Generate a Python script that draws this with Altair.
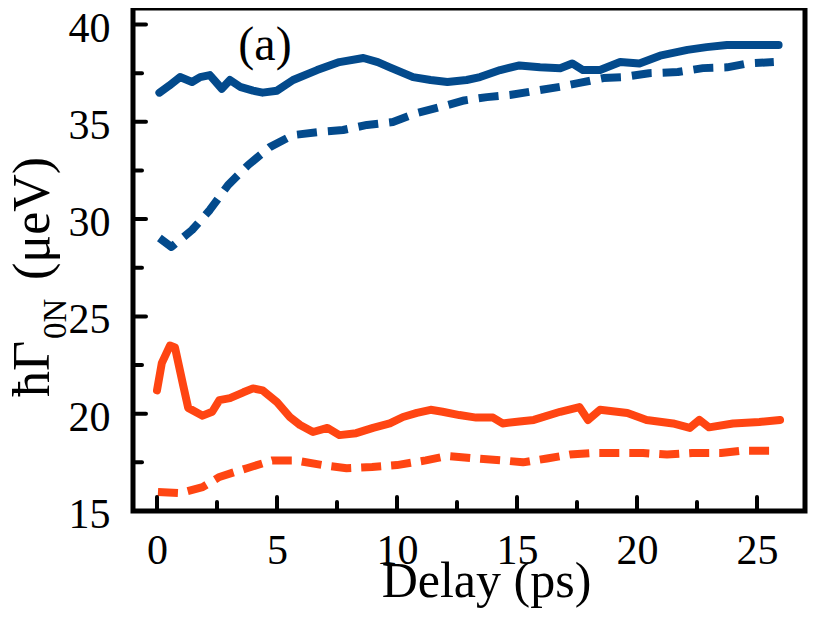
import altair as alt
import pandas as pd

# ---- data ----
blue_solid_x = [0.1, 0.5, 0.96, 1.46, 1.8, 2.2, 2.7, 3.04, 3.46, 4.0, 4.4, 5.0, 5.67, 6.67, 7.6, 8.6, 9.2, 9.7,
                10.67, 11.4, 12.1, 12.9, 13.46, 14.3, 15.1, 15.96, 16.8, 17.3, 17.75, 18.46, 19.3, 20.1, 20.96,
                22.1, 22.9, 23.75, 24.8, 25.9]
blue_solid_y = [36.5, 36.85, 37.3, 37.05, 37.3, 37.4, 36.7, 37.15, 36.8, 36.6, 36.5, 36.6, 37.15, 37.66, 38.07,
                38.28, 38.07, 37.8, 37.3, 37.15, 37.05, 37.15, 37.3, 37.66, 37.9, 37.8, 37.75, 38.0, 37.66, 37.66,
                38.07, 38.0, 38.4, 38.7, 38.84, 38.95, 38.95, 38.95]

blue_dash_x = [0.1, 0.6, 1.46, 2.2, 2.96, 3.8, 4.7, 5.67, 6.8, 7.75, 8.75, 9.83, 10.83, 11.8, 12.8, 13.75, 14.7,
               15.8, 16.8, 17.6, 18.6, 19.4, 20.5, 21.7, 22.75, 23.75, 24.6, 25.7]
blue_dash_y = [29.03, 28.57, 29.44, 30.47, 31.75, 32.78, 33.7, 34.32, 34.48, 34.58, 34.84, 34.99, 35.45, 35.76,
               36.1, 36.27, 36.38, 36.6, 36.8, 37.0, 37.25, 37.3, 37.5, 37.56, 37.76, 37.8, 38.0, 38.07]

orange_solid_x = [0.0, 0.2, 0.54, 0.75, 1.1, 1.3, 1.9, 2.3, 2.6, 3.04, 3.6, 4.0, 4.4, 5.0, 5.54, 5.96, 6.5, 7.1,
                  7.6, 8.3, 9.0, 9.7, 10.25, 10.83, 11.4, 11.9, 12.6, 13.3, 14.0, 14.4, 15.1, 15.7, 16.8, 17.6,
                  17.96, 18.46, 19.6, 20.4, 21.5, 22.2, 22.6, 23.0, 24.0, 25.1, 25.96]
orange_solid_y = [21.2, 22.6, 23.5, 23.4, 21.4, 20.3, 19.9, 20.1, 20.7, 20.8, 21.1, 21.3, 21.2, 20.6, 19.83,
                  19.42, 19.06, 19.27, 18.9, 19.0, 19.27, 19.5, 19.83, 20.04, 20.2, 20.1, 19.93, 19.8, 19.8, 19.5,
                  19.6, 19.68, 20.1, 20.34, 19.68, 20.2, 20.04, 19.68, 19.5, 19.27, 19.68, 19.3, 19.5, 19.57, 19.68]

orange_dash_x = [0.04, 0.96, 1.9, 2.6, 3.75, 4.8, 5.75, 6.9, 7.9, 8.96, 10.0, 11.2, 12.1, 13.3, 14.4, 15.25,
                 16.25, 17.2, 18.2, 19.2, 20.25, 21.25, 22.3, 23.5, 24.4, 25.7]
orange_dash_y = [15.98, 15.92, 16.23, 16.75, 17.2, 17.6, 17.6, 17.36, 17.2, 17.26, 17.36, 17.6, 17.83, 17.7,
                 17.6, 17.5, 17.7, 17.9, 17.98, 17.98, 17.98, 17.9, 17.98, 17.98, 18.1, 18.1]

x_major = [0, 5, 10, 15, 20, 25]
x_minor = [2.5, 7.5, 12.5, 17.5, 22.5]
y_major = [15, 20, 25, 30, 35, 40]
y_minor = [17.5, 22.5, 27.5, 32.5, 37.5]

BLUE = "#034a8c"
ORANGE = "#ff4512"
FONT = "Liberation Serif"
W, H = 672, 503

xscale = alt.Scale(domain=[-1, 27], nice=False, zero=False)
yscale = alt.Scale(domain=[15, 40.85], nice=False, zero=False)

xaxis = alt.Axis(values=x_major, ticks=False, tickSize=0, domain=False, grid=False,
                 labelFont=FONT, labelFontSize=42, labelColor="black", labelPadding=19,
                 labelFlush=False, labelOverlap=False,
                 title="Delay (ps)", titleFont=FONT, titleFontSize=50, titleFontWeight="normal",
                 titleColor="black", titleX=353, titleY=85, titleBaseline="alphabetic", titleAlign="center")
yaxis = alt.Axis(values=y_major, ticks=False, tickSize=0, domain=False, grid=False,
                 labelFont=FONT, labelFontSize=42, labelColor="black", labelPadding=23,
                 labelOffset=3.5, labelFlush=False, labelOverlap=False, title=None)


def line(xs, ys, color, dash=None):
    df = pd.DataFrame({"delay": xs, "gamma": ys})
    kw = dict(color=color, strokeWidth=8, strokeJoin="round")
    if dash:
        kw["strokeDash"] = dash
    else:
        kw["strokeCap"] = "round"
    return alt.Chart(df).mark_line(**kw).encode(
        x=alt.X("delay:Q", scale=xscale, axis=xaxis, title="Delay (ps)"),
        y=alt.Y("gamma:Q", scale=yscale, axis=yaxis, title=None),
    )


layers = [
    line(blue_solid_x, blue_solid_y, BLUE),
    line(blue_dash_x, blue_dash_y, BLUE, [20, 11]),
    line(orange_solid_x, orange_solid_y, ORANGE),
    line(orange_dash_x, orange_dash_y, ORANGE, [20, 10]),
]


def yticks(vals, length):
    return alt.Chart(pd.DataFrame({"gamma": vals})).mark_rule(
        color="black", strokeWidth=4, strokeCap="round").encode(
        y=alt.Y("gamma:Q", scale=yscale, axis=yaxis, title=None),
        x=alt.value(0), x2=alt.value(length))


def xticks(vals, length):
    return alt.Chart(pd.DataFrame({"delay": vals})).mark_rule(
        color="black", strokeWidth=4, strokeCap="round").encode(
        x=alt.X("delay:Q", scale=xscale, axis=xaxis, title="Delay (ps)"),
        y=alt.value(H), y2=alt.value(H - length))


layers += [yticks(y_major[1:], 13), yticks(y_minor, 9), xticks(x_major, 14), xticks(x_minor, 9)]


def label(txt, x, y, size, angle=0, align="left"):
    kw = dict(font=FONT, fontSize=size, color="black", align=align, baseline="alphabetic")
    if angle:
        kw["angle"] = angle
    return alt.Chart(pd.DataFrame({"t": [txt]})).mark_text(**kw).encode(
        text="t:N", x=alt.value(x), y=alt.value(y))


layers += [
    label("ħΓ", -84, 389, 52, angle=270),
    label("0N", -67, 331, 33, angle=270),
    label("(μeV)", -84, 272, 52, angle=270),
    label("(a)", 132, 52, 48, align="center"),
]

chart = alt.layer(*layers).properties(
    width=W, height=H,
    autosize=alt.AutoSizeParams(type="none"),
    padding={"left": 125, "top": 0, "right": 17, "bottom": 106},
    background="white",
).configure_view(stroke="black", strokeWidth=5)

chart.save("out.html", embed_options={"renderer": "svg", "actions": False})
